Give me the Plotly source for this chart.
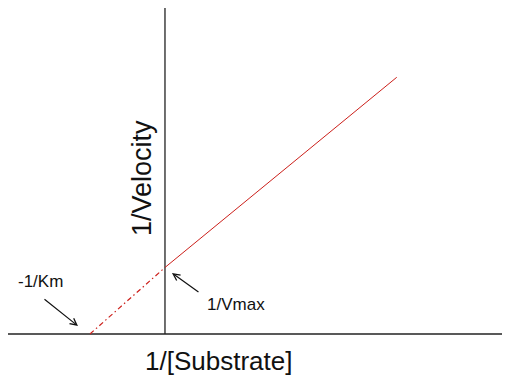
import plotly.graph_objects as go

# Lineweaver-Burk plot data (arbitrary units)
inv_vmax = 1.0          # y-intercept: 1/Vmax
neg_inv_km = -1.0       # x-intercept: -1/Km
solid_x = [0.0, 3.09]   # 1/[Substrate] for measured line
solid_y = [1.0, 3.86]   # 1/Velocity for measured line
dashed_x = [neg_inv_km, 0.0]
dashed_y = [0.0, inv_vmax]

x_range = [-2.093, 4.6]
y_range = [-0.707, 4.902]
x_axis_extent = [-2.093, 4.573]
y_axis_extent = [0.0, 4.902]

labels = {"x": "1/[Substrate]", "y": "1/Velocity", "km": "-1/Km", "vmax": "1/Vmax"}

W, H, OFF = 502, 373, 8  # page body has an 8px margin


def px(x):
    return (x - OFF) / W


def py(y):
    return 1 - (y - OFF) / H


fig = go.Figure()
axis_color = "#222222"
red = "#cc1f1a"

# axes
fig.add_trace(go.Scatter(x=x_axis_extent, y=[0, 0], mode="lines",
                         line=dict(color=axis_color, width=1.3), hoverinfo="skip"))
fig.add_trace(go.Scatter(x=[0, 0], y=y_axis_extent, mode="lines",
                         line=dict(color=axis_color, width=1.3), hoverinfo="skip"))
# lines
fig.add_trace(go.Scatter(x=dashed_x, y=dashed_y, mode="lines",
                         line=dict(color=red, width=1.2, dash="5px,3px,1.5px,3px"), hoverinfo="skip"))
fig.add_trace(go.Scatter(x=solid_x, y=solid_y, mode="lines",
                         line=dict(color=red, width=1), hoverinfo="skip"))

font = "Liberation Sans, Arial, sans-serif"
# arrows
fig.add_annotation(x=-1.16, y=0.12, xref="x", yref="y", text="", showarrow=True,
                   ax=-35, ay=-28, arrowhead=5, arrowsize=1.1, arrowwidth=1.2, arrowcolor="#111")
fig.add_annotation(x=0.093, y=0.917, xref="x", yref="y", text="", showarrow=True,
                   ax=28, ay=20, arrowhead=5, arrowsize=1.1, arrowwidth=1.2, arrowcolor="#111")
# texts
common = dict(xref="paper", yref="paper", showarrow=False, xanchor="center", yanchor="middle")
fig.add_annotation(x=px(142), y=py(178), text=labels["y"], textangle=-90,
                   font=dict(family=font, size=27, color="#111"), **common)
fig.add_annotation(x=px(218.5), y=py(361), text=labels["x"],
                   font=dict(family=font, size=26, color="#111"), **common)
fig.add_annotation(x=px(40), y=py(281), text=labels["km"],
                   font=dict(family=font, size=17, color="#111"), **common)
fig.add_annotation(x=px(236), y=py(304), text=labels["vmax"],
                   font=dict(family=font, size=17, color="#111"), **common)

fig.update_xaxes(range=x_range, visible=False)
fig.update_yaxes(range=y_range, visible=False)
fig.update_layout(width=W, height=H, margin=dict(l=0, r=0, t=0, b=0),
                  showlegend=False, plot_bgcolor="white", paper_bgcolor="white")

fig.write_html("out.html")
